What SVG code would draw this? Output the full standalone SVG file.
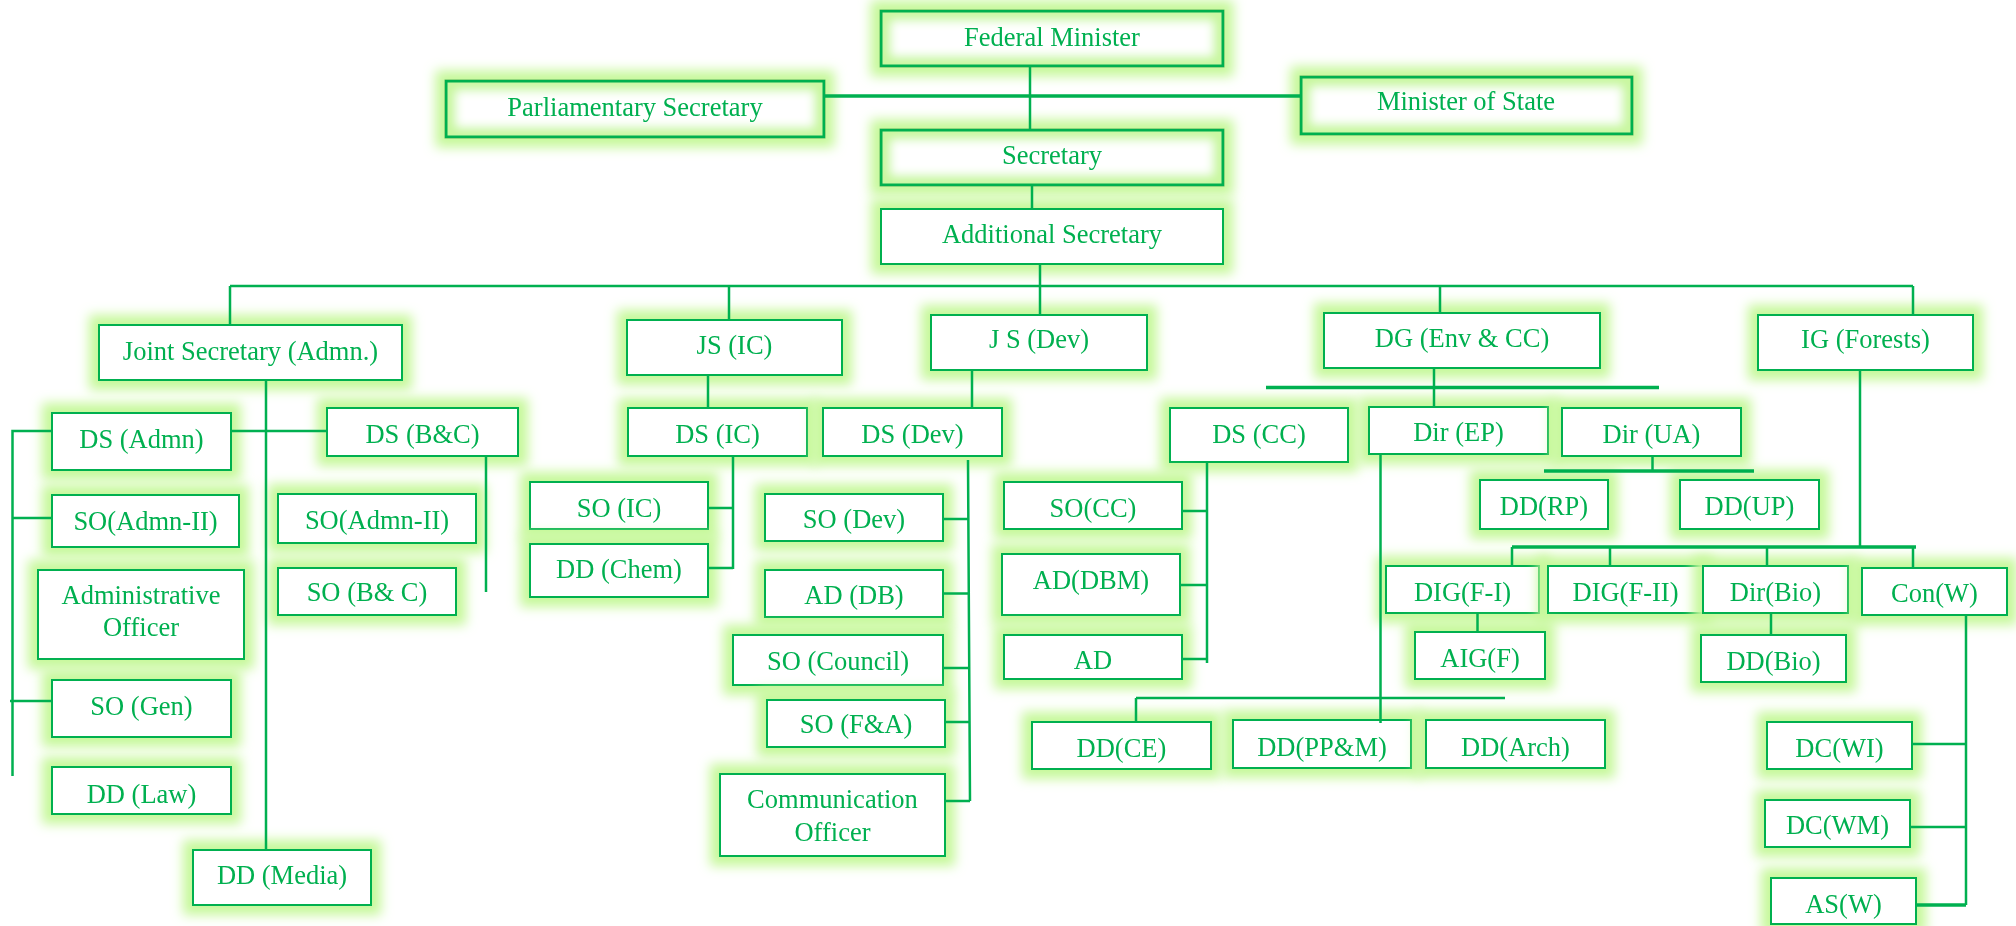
<svg xmlns="http://www.w3.org/2000/svg" width="2016" height="926" viewBox="0 0 2016 926">
<defs>
<filter id="glow" x="-30%" y="-80%" width="160%" height="260%">
<feMorphology in="SourceAlpha" operator="dilate" radius="9" result="d"/>
<feGaussianBlur in="d" stdDeviation="6" result="b"/>
<feFlood flood-color="#c6f89a" flood-opacity="1"/>
<feComposite in2="b" operator="in" result="g"/>
<feMerge><feMergeNode in="g"/><feMergeNode in="SourceGraphic"/></feMerge>
</filter>
<filter id="inner" x="0" y="0" width="100%" height="100%">
<feMorphology in="SourceAlpha" operator="erode" radius="10" result="er"/>
<feGaussianBlur in="er" stdDeviation="5" result="erb"/>
<feFlood flood-color="#c9f7a0"/>
<feComposite in2="erb" operator="out" result="ring"/>
<feComposite in="ring" in2="SourceAlpha" operator="in" result="ring2"/>
<feMerge><feMergeNode in="SourceGraphic"/><feMergeNode in="ring2"/></feMerge>
</filter>
</defs>
<style>
.n{filter:url(#glow)}
.n rect{fill:#fff;stroke:#00b050;stroke-width:2}
.n.k rect.f{filter:url(#inner);stroke:none}
.n.k rect.s{fill:none;stroke-width:3}
.n text{font-family:"Liberation Serif","Times New Roman",serif;font-size:26.5px;fill:#00b050;text-anchor:middle}
.c path{fill:none;stroke:#00b050;stroke-width:2.5}
.c path.w{stroke-width:3.5}
</style>
<rect width="2016" height="926" fill="#fff"/>

<g id="fm" class="n k"><rect class="f" x="881" y="11" width="342" height="55"/><rect class="s" x="881" y="11" width="342" height="55"/><text x="1052" y="46">Federal Minister</text></g>
<g id="ps" class="n k"><rect class="f" x="446" y="81" width="378" height="56"/><rect class="s" x="446" y="81" width="378" height="56"/><text x="635" y="116">Parliamentary Secretary</text></g>
<g id="ms" class="n k"><rect class="f" x="1301" y="77" width="331" height="57"/><rect class="s" x="1301" y="77" width="331" height="57"/><text x="1466" y="110">Minister of State</text></g>
<g id="sec" class="n k"><rect class="f" x="881" y="130" width="342" height="55"/><rect class="s" x="881" y="130" width="342" height="55"/><text x="1052" y="164">Secretary</text></g>
<g id="as" class="n"><rect x="881" y="209" width="342" height="55"/><text x="1052" y="243">Additional Secretary</text></g>

<g id="jsa" class="n"><rect x="99" y="325" width="303" height="55"/><text x="250.5" y="359.5">Joint Secretary (Admn.)</text></g>
<g id="jsic" class="n"><rect x="627" y="320" width="215" height="55"/><text x="734.5" y="354">JS (IC)</text></g>
<g id="jsdev" class="n"><rect x="931" y="315" width="216" height="55"/><text x="1039" y="348">J S (Dev)</text></g>
<g id="dg" class="n"><rect x="1324" y="313" width="276" height="55"/><text x="1462" y="347">DG (Env &amp; CC)</text></g>
<g id="ig" class="n"><rect x="1758" y="315" width="215" height="55"/><text x="1865.5" y="348">IG (Forests)</text></g>

<g id="dsadmn" class="n"><rect x="52" y="413" width="179" height="57"/><text x="141.5" y="448">DS (Admn)</text></g>
<g id="dsbc" class="n"><rect x="327" y="408" width="191" height="48"/><text x="422.5" y="443">DS (B&amp;C)</text></g>
<g id="soadmn2a" class="n"><rect x="52" y="495" width="187" height="52"/><text x="145.5" y="530">SO(Admn-II)</text></g>
<g id="soadmn2b" class="n"><rect x="278" y="494" width="198" height="49"/><text x="377" y="528.5">SO(Admn-II)</text></g>
<g id="sobc" class="n"><rect x="278" y="568" width="178" height="47"/><text x="367" y="601">SO (B&amp; C)</text></g>
<g id="ao" class="n"><rect x="38" y="570" width="206" height="89"/><text x="141" y="604">Administrative</text><text x="141" y="636">Officer</text></g>
<g id="sogen" class="n"><rect x="52" y="680" width="179" height="57"/><text x="141.5" y="714.5">SO (Gen)</text></g>
<g id="ddlaw" class="n"><rect x="52" y="767" width="179" height="47"/><text x="141.5" y="802.5">DD (Law)</text></g>
<g id="ddmedia" class="n"><rect x="193" y="850" width="178" height="55"/><text x="282" y="883.5">DD (Media)</text></g>

<g id="dsic" class="n"><rect x="628" y="408" width="179" height="48"/><text x="717.5" y="443">DS (IC)</text></g>
<g id="soic" class="n"><rect x="530" y="482" width="178" height="47"/><text x="619" y="517">SO (IC)</text></g>
<g id="ddchem" class="n"><rect x="530" y="544" width="178" height="53"/><text x="619" y="577.5">DD (Chem)</text></g>
<g id="dsdev" class="n"><rect x="823" y="408" width="179" height="48"/><text x="912.5" y="443">DS (Dev)</text></g>
<g id="sodev" class="n"><rect x="765" y="494" width="178" height="47"/><text x="854" y="528">SO (Dev)</text></g>
<g id="addb" class="n"><rect x="765" y="570" width="178" height="47"/><text x="854" y="603.5">AD (DB)</text></g>
<g id="socouncil" class="n"><rect x="733" y="635" width="210" height="50"/><text x="838" y="669.5">SO (Council)</text></g>
<g id="sofa" class="n"><rect x="767" y="700" width="178" height="47"/><text x="856" y="733">SO (F&amp;A)</text></g>
<g id="co" class="n"><rect x="720" y="774" width="225" height="82"/><text x="832.5" y="808">Communication</text><text x="832.5" y="840.5">Officer</text></g>

<g id="dscc" class="n"><rect x="1170" y="408" width="178" height="54"/><text x="1259" y="443">DS (CC)</text></g>
<g id="direp" class="n"><rect x="1369" y="407" width="179" height="47"/><text x="1458.5" y="441">Dir (EP)</text></g>
<g id="dirua" class="n"><rect x="1562" y="408" width="179" height="48"/><text x="1651.5" y="443">Dir (UA)</text></g>
<g id="ddrp" class="n"><rect x="1480" y="480" width="128" height="49"/><text x="1544" y="515">DD(RP)</text></g>
<g id="ddup" class="n"><rect x="1680" y="480" width="139" height="49"/><text x="1749.5" y="515">DD(UP)</text></g>
<g id="socc" class="n"><rect x="1004" y="482" width="178" height="47"/><text x="1093" y="516.5">SO(CC)</text></g>
<g id="addbm" class="n"><rect x="1002" y="554" width="178" height="61"/><text x="1091" y="588.5">AD(DBM)</text></g>
<g id="ad" class="n"><rect x="1004" y="635" width="178" height="44"/><text x="1093" y="668.5">AD</text></g>

<g id="digf1" class="n"><rect x="1386" y="566" width="153" height="47"/><text x="1462.5" y="600.5">DIG(F-I)</text></g>
<g id="digf2" class="n"><rect x="1548" y="566" width="155" height="47"/><text x="1625.5" y="600.5">DIG(F-II)</text></g>
<g id="dirbio" class="n"><rect x="1703" y="566" width="145" height="47"/><text x="1775.5" y="600.5">Dir(Bio)</text></g>
<g id="conw" class="n"><rect x="1862" y="568" width="145" height="47"/><text x="1934.5" y="601.5">Con(W)</text></g>
<g id="aigf" class="n"><rect x="1415" y="632" width="130" height="47"/><text x="1480" y="666.5">AIG(F)</text></g>
<g id="ddbio" class="n"><rect x="1701" y="635" width="145" height="47"/><text x="1773.5" y="670">DD(Bio)</text></g>

<g id="ddce" class="n"><rect x="1032" y="722" width="179" height="47"/><text x="1121.5" y="757">DD(CE)</text></g>
<g id="ddppm" class="n"><rect x="1233" y="720" width="178" height="48"/><text x="1322" y="755.5">DD(PP&amp;M)</text></g>
<g id="ddarch" class="n"><rect x="1426" y="720" width="179" height="48"/><text x="1515.5" y="755.5">DD(Arch)</text></g>
<g id="dcwi" class="n"><rect x="1767" y="722" width="145" height="47"/><text x="1839.5" y="756.5">DC(WI)</text></g>
<g id="dcwm" class="n"><rect x="1765" y="800" width="145" height="47"/><text x="1837.5" y="834">DC(WM)</text></g>
<g id="asw" class="n"><rect x="1771" y="878" width="145" height="46"/><text x="1843.5" y="912.5">AS(W)</text></g>

<g id="connectors" class="c">
<path d="M1030,66V130"/>
<path class="w" d="M824,96H1301"/>
<path d="M1032,185V209"/>
<path d="M1040,264V315"/>
<path d="M230,286H1913"/>
<path d="M230,286V325M729,286V320M1440,286V313M1913,286V315"/>
<path d="M266,380V850"/>
<path d="M231,431H327"/>
<path d="M52,431H12.5V776M12.5,518H52M10,701H52"/>
<path d="M486,456V592"/>
<path d="M708,376V408"/>
<path d="M733,456V569M708,508H733M708,568H733"/>
<path d="M972,370V408"/>
<path d="M968,460L970,801M943,519H969M943,593.5H969M943,668H969M945,722H970M945,801H970"/>
<path d="M1434,368V407"/>
<path class="w" d="M1266,387.5H1659"/>
<path d="M1207,462V663M1182,511H1207M1180,585H1207M1182,659H1207"/>
<path d="M1652.5,456V471"/>
<path class="w" d="M1544,471H1754"/>
<path d="M1380.5,454V723M1136,698H1505M1136,698V722"/>
<path d="M1860,370V547"/>
<path class="w" d="M1512,547H1916"/>
<path d="M1512,547V566M1610,547V566M1767,547V566M1913,547V568"/>
<path d="M1477.5,613V632"/>
<path d="M1771,613V635"/>
<path d="M1966,615V905M1912,744H1966M1910,827H1966"/>
<path class="w" d="M1916,905H1966"/>
</g>
</svg>
